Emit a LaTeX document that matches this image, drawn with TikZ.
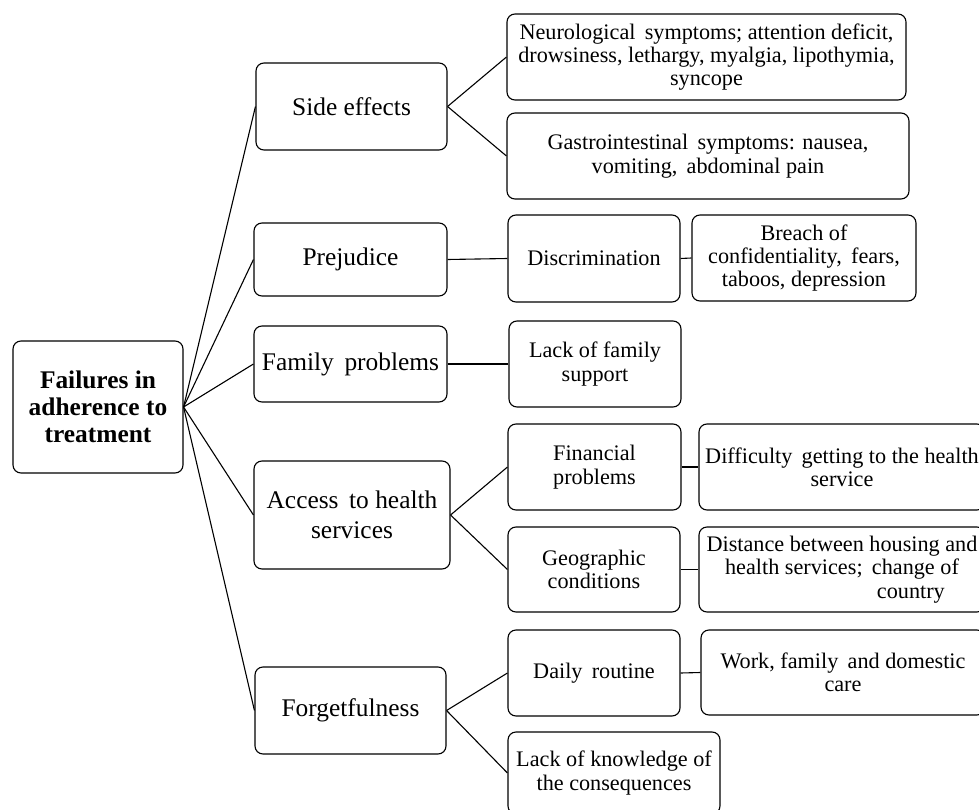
\documentclass[tikz,border=0pt]{standalone}
\usepackage{fontspec}
\setmainfont{Liberation Serif}
\begin{document}
\begin{tikzpicture}[x=1bp,y=-1bp,
  box/.style={draw, rounded corners=8bp, line width=1.1bp, align=center, inner sep=0pt, font=\fontsize{22.3}{23.5}\selectfont},
  big/.style={box, font=\fontsize{25.5}{30}\selectfont},
  link/.style={line width=1.1bp}]
\useasboundingbox (0,0) rectangle (979,810);
\node[box, minimum width=170bp, minimum height=132bp, font=\fontsize{25.5}{27}\selectfont\bfseries] (root) at (98,407) {Failures in\\adherence to\\treatment};
\node[big, minimum width=191bp, minimum height=87bp] (side) at (351.5,106.5) {Side effects};
\node[big, minimum width=193bp, minimum height=73bp] (prej) at (350.5,259.5) {Prejudice};
\node[big, minimum width=193bp, minimum height=76bp] (fam) at (350.5,364) {Family\, problems};
\node[big, minimum width=196bp, minimum height=108bp] (acc) at (352,515) {Access\, to health\\services};
\node[big, minimum width=191bp, minimum height=87bp] (forg) at (350.5,710.5) {Forgetfulness};
\node[box, minimum width=399bp, minimum height=86bp] (neuro) at (706.5,57) {Neurological\, symptoms; attention deficit,\\drowsiness, lethargy, myalgia, lipothymia,\\syncope};
\node[box, minimum width=402bp, minimum height=86bp] (gast) at (708,156) {Gastrointestinal\, symptoms: nausea,\\vomiting,\, abdominal pain};
\node[box, minimum width=172bp, minimum height=87bp] (disc) at (594,258.5) {Discrimination};
\node[box, minimum width=224bp, minimum height=86bp] (breach) at (804,258) {Breach of\\confidentiality,\, fears,\\taboos, depression};
\node[box, minimum width=172bp, minimum height=86bp] (lfam) at (595,364) {Lack of family\\support};
\node[box, minimum width=173bp, minimum height=86bp] (fin) at (594.5,467) {Financial\\problems};
\node[box, minimum width=286bp, minimum height=86bp] (diff) at (842,467) {Difficulty\, getting to the health\\service};
\node[box, minimum width=172bp, minimum height=85bp] (geo) at (594,569.5) {Geographic\\conditions};
\node[box, minimum width=286bp, minimum height=85bp] (dist) at (842,569.5) {Distance between housing and\\health services;\, change of\\\hspace*{6.2em}country};
\node[box, minimum width=172bp, minimum height=86bp] (daily) at (594,673) {Daily\, routine};
\node[box, minimum width=284bp, minimum height=85bp] (work) at (843,672.5) {Work, family\, and domestic\\care};
\node[box, minimum width=212bp, minimum height=82bp] (lknow) at (614,773) {Lack of knowledge of\\the consequences};
\foreach \c in {side,prej,fam,acc,forg} \draw[link] (root.east) -- (\c.west);
\draw[link] (side.east) -- (neuro.west);
\draw[link] (side.east) -- (gast.west);
\draw[link] (prej.east) -- (disc.west);
\draw[link] (disc.east) -- (breach.west);
\draw[link] (fam.east) -- (lfam.west);
\draw[link] (acc.east) -- (fin.west);
\draw[link] (acc.east) -- (geo.west);
\draw[link] (fin.east) -- (diff.west);
\draw[link] (geo.east) -- (dist.west);
\draw[link] (forg.east) -- (daily.west);
\draw[link] (forg.east) -- (lknow.west);
\draw[link] (daily.east) -- (work.west);
\end{tikzpicture}
\end{document}
